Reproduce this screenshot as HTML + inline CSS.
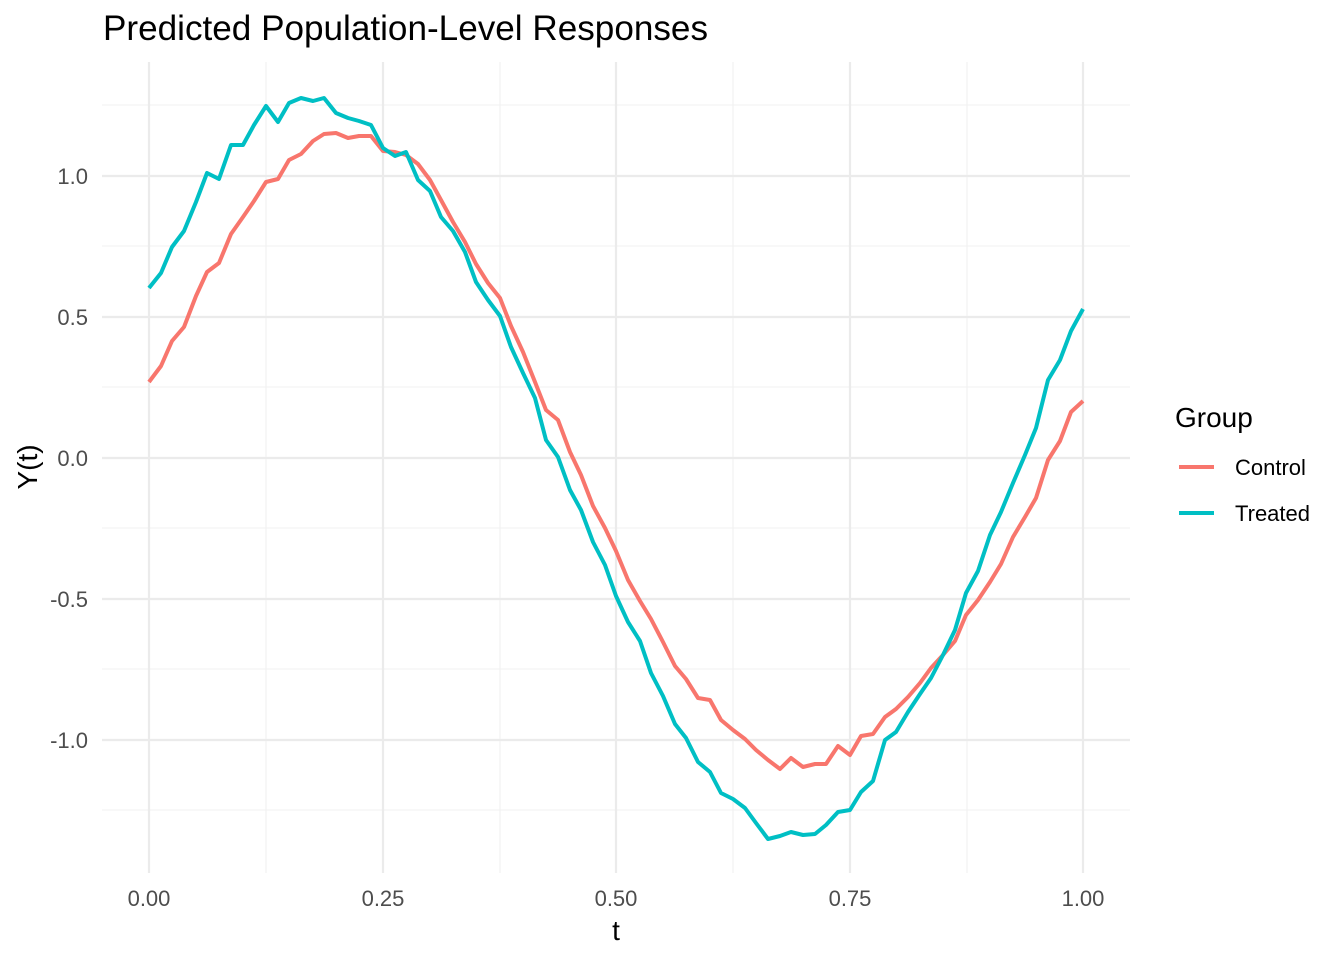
<!DOCTYPE html>
<html><head><style>body{margin:0;background:#fff}</style></head><body>
<svg width="1344" height="960" xmlns="http://www.w3.org/2000/svg" font-family="Liberation Sans, sans-serif">
<rect width="1344" height="960" fill="#fff"/>
<g stroke="#f0f0f0" stroke-width="1.1">
<line x1="102" x2="1130" y1="105" y2="105"/><line x1="102" x2="1130" y1="246" y2="246"/><line x1="102" x2="1130" y1="387" y2="387"/><line x1="102" x2="1130" y1="528" y2="528"/><line x1="102" x2="1130" y1="669" y2="669"/><line x1="102" x2="1130" y1="810" y2="810"/>
<line y1="62" y2="873" x1="266" x2="266"/><line y1="62" y2="873" x1="500" x2="500"/><line y1="62" y2="873" x1="733" x2="733"/><line y1="62" y2="873" x1="967" x2="967"/>
</g>
<g stroke="#ebebeb" stroke-width="2.2">
<line x1="102" x2="1130" y1="176" y2="176"/><line x1="102" x2="1130" y1="317" y2="317"/><line x1="102" x2="1130" y1="458" y2="458"/><line x1="102" x2="1130" y1="599" y2="599"/><line x1="102" x2="1130" y1="740" y2="740"/>
<line y1="62" y2="873" x1="149" x2="149"/><line y1="62" y2="873" x1="383" x2="383"/><line y1="62" y2="873" x1="616" x2="616"/><line y1="62" y2="873" x1="850" x2="850"/><line y1="62" y2="873" x1="1083" x2="1083"/>
</g>
<polyline fill="none" stroke="#F8766D" stroke-width="4" stroke-linejoin="round" points="149,382 161,366 172,341 184,327 196,296 207,272 219,263 231,234 243,217 254,201 266,182 278,179 289,160 301,154 313,141 324,134 336,133 348,138 359,136 371,136 383,151 395,152 406,155 418,164 430,180 441,200 453,222 465,242 476,264 488,283 500,298 511,326 523,352 535,382 546,410 558,420 570,452 581,475 593,506 605,528 616,551 628,580 640,601 651,619 663,642 675,666 686,679 698,698 710,700 721,720 733,730 745,739 756,750 768,760 780,769 791,758 803,767 815,764 826,764 838,746 850,755 861,736 873,734 885,717 896,709 908,697 920,683 931,668 943,655 955,641 966,615 978,600 990,582 1001,564 1013,537 1025,517 1036,498 1048,460 1060,441 1071,412 1083,401"/>
<polyline fill="none" stroke="#00BFC4" stroke-width="4" stroke-linejoin="round" points="149,288 161,273 172,247 184,231 196,202 207,173 219,179 231,145 243,145 254,125 266,106 278,122 289,103 301,98 313,101 324,98 336,113 348,118 359,121 371,125 383,148 395,156 406,152 418,180 430,191 441,217 453,231 465,252 476,282 488,300 500,316 511,347 523,373 535,398 546,440 558,457 570,490 581,510 593,542 605,565 616,596 628,622 640,641 651,673 663,696 675,724 686,738 698,762 710,772 721,793 733,799 745,808 756,823 768,839 780,836 791,832 803,835 815,834 826,825 838,812 850,810 861,792 873,781 885,740 896,732 908,712 920,694 931,678 943,655 955,630 966,593 978,571 990,535 1001,512 1013,483 1025,455 1036,428 1048,380 1060,360 1071,331 1083,309"/>
<g font-size="22" fill="#4d4d4d" text-anchor="end">
<text x="88" y="184">1.0</text><text x="88" y="325">0.5</text><text x="88" y="466">0.0</text><text x="88" y="607">-0.5</text><text x="88" y="748">-1.0</text>
</g>
<g font-size="22" fill="#4d4d4d" text-anchor="middle">
<text x="149" y="906">0.00</text><text x="383" y="906">0.25</text><text x="616" y="906">0.50</text><text x="850" y="906">0.75</text><text x="1083" y="906">1.00</text>
</g>
<text x="616" y="940" font-size="28" text-anchor="middle">t</text>
<text transform="translate(37,467) rotate(-90)" font-size="28" text-anchor="middle">Y(t)</text>
<text x="103" y="40" font-size="35" textLength="605" lengthAdjust="spacingAndGlyphs">Predicted Population-Level Responses</text>
<text x="1175" y="427" font-size="28">Group</text>
<line x1="1179" x2="1214" y1="467" y2="467" stroke="#F8766D" stroke-width="4"/>
<line x1="1179" x2="1214" y1="513" y2="513" stroke="#00BFC4" stroke-width="4"/>
<text x="1235" y="475" font-size="22">Control</text>
<text x="1235" y="521" font-size="22">Treated</text>
</svg>
</body></html>
